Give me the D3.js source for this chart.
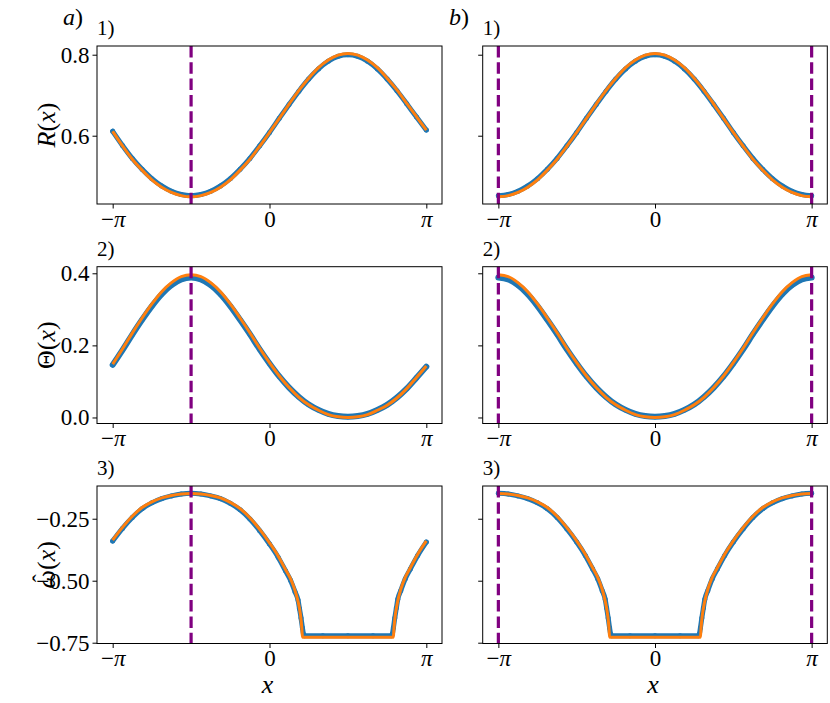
<!DOCTYPE html>
<html><head><meta charset="utf-8">
<script src="https://cdn.jsdelivr.net/npm/d3@7"></script>
<style>
body{margin:0;background:#fff}
text{font-family:"Liberation Serif","DejaVu Serif",serif;fill:#000}
</style>
</head><body><svg id="c" width="830" height="703"></svg>
<script>
// x positions in units of pi
const xGrid = [-1,-0.9375,-0.875,-0.8125,-0.75,-0.6875,-0.625,-0.5625,-0.5,-0.4375,-0.375,-0.3125,-0.25,-0.1875,-0.125,-0.0625,0,0.0625,0.125,0.1875,0.25,0.3125,0.375,0.4375,0.5,0.5625,0.625,0.6875,0.75,0.8125,0.875,0.9375,1];

// panel a) values
const aR_blue   = [0.611,0.576,0.544,0.517,0.494,0.476,0.463,0.455,0.452,0.455,0.463,0.476,0.494,0.517,0.544,0.575,0.608,0.643,0.677,0.710,0.740,0.765,0.784,0.796,0.800,0.796,0.784,0.765,0.740,0.711,0.679,0.646,0.614];
const aR_orange = [0.611,0.575,0.542,0.515,0.491,0.473,0.460,0.452,0.449,0.452,0.460,0.473,0.491,0.515,0.542,0.574,0.608,0.643,0.678,0.712,0.742,0.768,0.787,0.799,0.803,0.799,0.787,0.768,0.742,0.713,0.680,0.647,0.614];
const aT_blue   = [0.146,0.187,0.230,0.271,0.309,0.342,0.367,0.383,0.388,0.383,0.367,0.342,0.309,0.271,0.231,0.189,0.150,0.114,0.083,0.057,0.036,0.021,0.010,0.004,0.002,0.004,0.010,0.021,0.035,0.055,0.080,0.110,0.141];
const aT_orange = [0.148,0.190,0.234,0.276,0.315,0.349,0.374,0.391,0.396,0.391,0.374,0.349,0.315,0.276,0.235,0.192,0.152,0.115,0.083,0.056,0.035,0.020,0.008,0.002,0.000,0.002,0.008,0.020,0.034,0.054,0.080,0.111,0.143];
const aW_x_blue   = [-1,-0.9375,-0.875,-0.8125,-0.75,-0.6875,-0.625,-0.5625,-0.5,-0.4375,-0.375,-0.3125,-0.25,-0.1875,-0.125,-0.0625,0,0.055,0.102,0.134,0.163,0.182,0.191,0.201,0.210,0.217,0.223,0.34,0.5,0.66,0.777,0.783,0.790,0.799,0.809,0.818,0.837,0.866,0.898,0.945,1];
const aW_blue     = [-0.340,-0.289,-0.245,-0.210,-0.186,-0.169,-0.158,-0.150,-0.147,-0.150,-0.158,-0.169,-0.188,-0.214,-0.251,-0.298,-0.352,-0.405,-0.460,-0.498,-0.545,-0.578,-0.612,-0.650,-0.690,-0.716,-0.722,-0.722,-0.722,-0.722,-0.722,-0.716,-0.690,-0.650,-0.610,-0.575,-0.540,-0.492,-0.453,-0.398,-0.344];
const aW_x_orange = [-1,-0.9375,-0.875,-0.8125,-0.75,-0.6875,-0.625,-0.5625,-0.5,-0.4375,-0.375,-0.3125,-0.25,-0.1875,-0.125,-0.0625,0,0.055,0.102,0.134,0.163,0.185,0.198,0.206,0.210,0.34,0.5,0.66,0.790,0.794,0.802,0.815,0.837,0.866,0.898,0.945,1];
const aW_orange   = [-0.336,-0.285,-0.240,-0.205,-0.182,-0.166,-0.156,-0.150,-0.148,-0.150,-0.156,-0.166,-0.184,-0.209,-0.246,-0.293,-0.347,-0.400,-0.455,-0.492,-0.540,-0.592,-0.640,-0.690,-0.728,-0.728,-0.728,-0.728,-0.728,-0.690,-0.640,-0.591,-0.535,-0.486,-0.448,-0.393,-0.339];

// panel b) values
const bR_blue   = [0.452,0.455,0.463,0.476,0.494,0.517,0.544,0.575,0.608,0.643,0.677,0.710,0.740,0.765,0.784,0.796,0.800,0.796,0.784,0.765,0.740,0.710,0.677,0.643,0.608,0.575,0.544,0.517,0.494,0.476,0.463,0.455,0.452];
const bR_orange = [0.449,0.452,0.460,0.473,0.491,0.515,0.542,0.574,0.608,0.643,0.678,0.712,0.742,0.768,0.787,0.799,0.803,0.799,0.787,0.768,0.742,0.712,0.678,0.643,0.608,0.574,0.542,0.515,0.491,0.473,0.460,0.452,0.449];
const bT_blue   = [0.388,0.383,0.367,0.342,0.309,0.271,0.231,0.189,0.150,0.114,0.083,0.057,0.036,0.021,0.010,0.004,0.002,0.004,0.010,0.021,0.036,0.057,0.083,0.114,0.150,0.189,0.231,0.271,0.309,0.342,0.367,0.383,0.388];
const bT_orange = [0.396,0.391,0.374,0.349,0.315,0.276,0.235,0.192,0.152,0.115,0.083,0.056,0.035,0.020,0.008,0.002,0.000,0.002,0.008,0.020,0.035,0.056,0.083,0.115,0.152,0.192,0.235,0.276,0.315,0.349,0.374,0.391,0.396];
const bW_x_blue   = [-1,-0.9375,-0.875,-0.8125,-0.75,-0.6875,-0.625,-0.5625,-0.5,-0.445,-0.398,-0.366,-0.337,-0.318,-0.309,-0.299,-0.290,-0.283,-0.277,-0.16,0,0.16,0.277,0.283,0.290,0.299,0.309,0.318,0.337,0.366,0.398,0.445,0.5,0.5625,0.625,0.6875,0.75,0.8125,0.875,0.9375,1];
const bW_blue     = [-0.147,-0.150,-0.158,-0.169,-0.186,-0.210,-0.245,-0.291,-0.344,-0.398,-0.453,-0.492,-0.540,-0.575,-0.610,-0.650,-0.690,-0.716,-0.722,-0.722,-0.722,-0.722,-0.722,-0.716,-0.690,-0.650,-0.610,-0.575,-0.540,-0.492,-0.453,-0.398,-0.344,-0.291,-0.245,-0.210,-0.186,-0.169,-0.158,-0.150,-0.147];
const bW_x_orange = [-1,-0.9375,-0.875,-0.8125,-0.75,-0.6875,-0.625,-0.5625,-0.5,-0.445,-0.398,-0.366,-0.337,-0.315,-0.302,-0.294,-0.290,-0.16,0,0.16,0.290,0.294,0.302,0.315,0.337,0.366,0.398,0.445,0.5,0.5625,0.625,0.6875,0.75,0.8125,0.875,0.9375,1];
const bW_orange   = [-0.148,-0.150,-0.156,-0.166,-0.182,-0.205,-0.240,-0.286,-0.339,-0.393,-0.448,-0.486,-0.535,-0.591,-0.640,-0.690,-0.728,-0.728,-0.728,-0.728,-0.728,-0.690,-0.640,-0.591,-0.535,-0.486,-0.448,-0.393,-0.339,-0.286,-0.240,-0.205,-0.182,-0.166,-0.156,-0.150,-0.148];

// vertical marker positions (units of pi)
const aMarkers = [-0.5];
const bMarkers = [-1, 1];

// ticks
const xTicks = [-1, 0, 1];
const xTickLabels = ["−π", "0", "π"];
const rTicks = [0.6, 0.8];        const rTickLabels = ["0.6", "0.8"];
const tTicks = [0.0, 0.2, 0.4];   const tTickLabels = ["0.0", "0.2", "0.4"];
const wTicks = [-0.75, -0.5, -0.25]; const wTickLabels = ["−0.75", "−0.50", "−0.25"];

const colLabels = ["a)", "b)"];
const rowLabels = ["1)", "2)", "3)"];

// ---------- layout ----------
const cols = [{x0: 97, x1: 442}, {x0: 482.7, x1: 827.3}];
const rows = [
  {y0: 46,    y1: 204,   dom: [0.4314, 0.8215], ticks: rTicks, labels: rTickLabels, ylab: "R"},
  {y0: 266.7, y1: 423.5, dom: [-0.0167, 0.4183], ticks: tTicks, labels: tTickLabels, ylab: "T"},
  {y0: 486,   y1: 643.5, dom: [-0.7532, -0.118], ticks: wTicks, labels: wTickLabels, ylab: "W"}
];
const series = [
  [ {bx: xGrid, by: aR_blue, ox: xGrid, oy: aR_orange},
    {bx: xGrid, by: aT_blue, ox: xGrid, oy: aT_orange},
    {bx: aW_x_blue, by: aW_blue, ox: aW_x_orange, oy: aW_orange} ],
  [ {bx: xGrid, by: bR_blue, ox: xGrid, oy: bR_orange},
    {bx: xGrid, by: bT_blue, ox: xGrid, oy: bT_orange},
    {bx: bW_x_blue, by: bW_blue, ox: bW_x_orange, oy: bW_orange} ]
];
const markers = [aMarkers, bMarkers];

const svg = d3.select("#c");
const BLUE = "#1f77b4", ORANGE = "#ff7f0e", PURPLE = "#800080";
const TICK_FS = 23;

cols.forEach((c, ci) => {
  const x = d3.scaleLinear().domain([-1.1, 1.1]).range([c.x0, c.x1]);
  rows.forEach((r, ri) => {
    const y = d3.scaleLinear().domain(r.dom).range([r.y1, r.y0]);
    const g = svg.append("g");
    const s = series[ci][ri];

    // blue scatter (dense) : band + dots
    const bpts = s.bx.map((v, i) => [v, s.by[i]]);
    const line = d3.line().x(d => x(d[0])).y(d => y(d[1])).curve(d3.curveMonotoneX);
    g.append("path").attr("d", line(bpts)).attr("fill", "none")
      .attr("stroke", BLUE).attr("stroke-width", ri === 1 ? 6 : 5).attr("stroke-linecap", "round");
    g.selectAll("circle.b").data(bpts).enter().append("circle")
      .attr("cx", d => x(d[0])).attr("cy", d => y(d[1])).attr("r", 2.5).attr("fill", BLUE);

    // orange line
    const opts = s.ox.map((v, i) => [v, s.oy[i]]);
    g.append("path").attr("d", line(opts)).attr("fill", "none")
      .attr("stroke", ORANGE).attr("stroke-width", 3).attr("stroke-linejoin", "round");

    // purple dashed verticals
    markers[ci].forEach(m => {
      g.append("line").attr("x1", x(m)).attr("x2", x(m)).attr("y1", r.y0).attr("y2", r.y1)
        .attr("stroke", PURPLE).attr("stroke-width", 3.2).attr("stroke-dasharray", "11.5,4.8");
    });

    // frame
    g.append("rect").attr("x", c.x0).attr("y", r.y0).attr("width", c.x1 - c.x0).attr("height", r.y1 - r.y0)
      .attr("fill", "none").attr("stroke", "#000").attr("stroke-width", 1);

    // x axis
    const xa = d3.axisBottom(x).tickValues(xTicks).tickSize(4.5).tickPadding(2)
      .tickFormat((d, i) => xTickLabels[i]);
    const gx = g.append("g").attr("transform", `translate(0,${r.y1})`).call(xa);
    gx.select(".domain").remove();
    gx.selectAll("line").attr("stroke", "#000");
    gx.selectAll("text").attr("font-size", TICK_FS).attr("font-family", "Liberation Serif")
      .each(function(d, i) {
        const t = d3.select(this); const lab = xTickLabels[i]; t.text(null);
        if (lab.indexOf("π") >= 0) {
          if (lab[0] === "−") t.append("tspan").text("−");
          t.append("tspan").attr("font-style", "italic").text("π");
        } else t.text(lab);
      });

    // y axis
    const ya = d3.axisLeft(y).tickValues(r.ticks).tickSize(4.5).tickPadding(3)
      .tickFormat((d, i) => ci === 0 ? r.labels[i] : "");
    const gy = g.append("g").attr("transform", `translate(${c.x0},0)`).call(ya);
    gy.select(".domain").remove();
    gy.selectAll("line").attr("stroke", "#000");
    gy.selectAll("text").attr("font-size", TICK_FS).attr("font-family", "Liberation Serif");

    // panel number
    g.append("text").attr("x", c.x0).attr("y", r.y0 - 11).attr("font-size", 21).text(rowLabels[ri]);

    // x label on bottom row
    if (ri === 2) {
      g.append("text").attr("x", (c.x0 + c.x1) / 2 - 2).attr("y", 693).attr("text-anchor", "middle")
        .attr("font-size", 26).attr("font-style", "italic").text("x");
    }

    // y labels on left column
    if (ci === 0) {
      const cy = (r.y0 + r.y1) / 2;
      const lg = g.append("g").attr("transform", `translate(55,${cy}) rotate(-90)`);
      const t = lg.append("text").attr("font-size", 26);
      if (r.ylab === "R") t.append("tspan").attr("font-style", "italic").text("R");
      else if (r.ylab === "T") t.append("tspan").text("Θ");
      else t.append("tspan").attr("font-style", "italic").text("ω");
      t.append("tspan").text("(");
      t.append("tspan").attr("font-style", "italic").text("x");
      t.append("tspan").text(")");
      const len = t.node().getComputedTextLength();
      t.attr("x", -len / 2);
      if (r.ylab === "W") {
        const w0 = t.node().getSubStringLength(0, 1);
        lg.append("text").attr("x", -len / 2 + w0 / 2 + 1).attr("y", -6)
          .attr("text-anchor", "middle").attr("font-size", 24).text("ˆ");
      }
    }
  });
  // column label
  const cl = svg.append("text").attr("x", ci === 0 ? 63 : 449).attr("y", 25).attr("font-size", 24);
  cl.append("tspan").attr("font-style", "italic").text(colLabels[ci][0]);
  cl.append("tspan").text(")");
});
</script>
</body></html>
